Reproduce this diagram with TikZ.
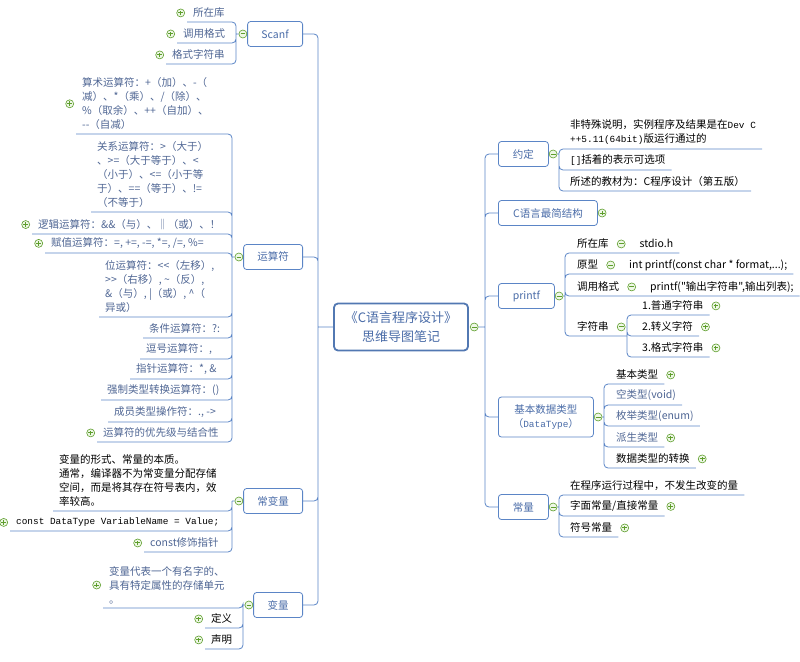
\documentclass[tikz,border=0pt]{standalone}
\usepackage{fontspec}
\newfontfamily\cjk[Ligatures=TeXOff]{Noto Sans CJK SC}
\newfontfamily\mono{Liberation Mono}
\newcommand{\monotext}[1]{{\mono\fontsize{9.4}{14}\selectfont #1}}
\usetikzlibrary{positioning}
\definecolor{linkblue}{HTML}{5B85C6}
\definecolor{topicblue}{HTML}{4A6CA8}
\definecolor{leafblue}{HTML}{4E6593}
\definecolor{icongreen}{HTML}{5E9E2C}
\definecolor{iconfill}{HTML}{EEF7E6}

\begin{document}
\begin{tikzpicture}[x=1pt, y=-1pt,
  link/.style={draw=linkblue, line width=0.8pt, rounded corners=4pt},
  topic/.style={draw=linkblue, line width=0.8pt, rounded corners=3pt, fill=white, text=topicblue,
    font=\cjk\fontsize{10.5}{14}\selectfont, minimum height=25pt, inner xsep=13pt, align=center},
  leaf/.style={anchor=south west, inner xsep=6pt, inner ysep=4pt, align=left, text=leafblue,
    font=\cjk\fontsize{10.5}{14}\selectfont},
  dark/.style={text=black},
  icon/.style={circle, draw=icongreen, fill=iconfill, line width=0.6pt, minimum size=8pt, inner sep=0pt},
  plusicon/.style={icon, path picture={
    \draw[icongreen, line width=1pt] ([xshift=-2.4pt]path picture bounding box.center) -- ([xshift=2.4pt]path picture bounding box.center)
      ([yshift=-2.4pt]path picture bounding box.center) -- ([yshift=2.4pt]path picture bounding box.center);}},
  minusicon/.style={icon, path picture={
    \draw[icongreen, line width=1pt] ([xshift=-2.4pt]path picture bounding box.center) -- ([xshift=2.4pt]path picture bounding box.center);}}]

  \useasboundingbox (0,0) rectangle (800,661);

  % centre
  \node[draw=linkblue!90!black, line width=1.8pt, rounded corners=4pt, fill=white, text=topicblue,
    font=\cjk\fontsize{13}{19}\selectfont, align=center, minimum width=134pt, minimum height=47pt]
    (root) at (401,327) {《C语言程序设计》\\思维导图笔记};
  \node[minusicon, right=1pt of root] (rootm) {};
  \coordinate (ltrunk) at (318,327);
  \coordinate (rtrunk) at (485,327);

  % Scanf
  \node[topic, anchor=east, minimum width=55pt] (scanf) at (303,34) {Scanf};
  \node[minusicon, left=0pt of scanf] (scanfm) {};
  \coordinate (scb) at (236,34);
  \node[leaf] (sc1) at (187,22) {所在库};
  \node[plusicon, left=2pt of sc1] (sc1p) {};
  \node[leaf] (sc2) at (177,43) {调用格式};
  \node[plusicon, left=2pt of sc2] (sc2p) {};
  \node[leaf] (sc3) at (166,64) {格式字符串};
  \node[plusicon, left=2pt of sc3] (sc3p) {};
  \draw[link] (scanfm) -- (scb) (scb) |- (sc1.south west) (scb) |- (sc2.south west) (scb) |- (sc3.south west);

  % operators
  \node[topic, anchor=east, minimum width=59pt] (ysf) at (303,257) {运算符};
  \node[minusicon, left=0pt of ysf] (ysfm) {};
  \coordinate (ysb) at (232,257);
  \node[leaf] (ys1) at (76,134) {算术运算符：+（加）、-（\\减）、*（乘）、/（除）、\\\%（取余）、++（自加）、\\--（自减）};
  \node[plusicon, left=2pt of ys1] (ys1p) {};
  \node[leaf] (ys2) at (91,212) {关系运算符：>（大于）\\、>=（大于等于）、<\\（小于）、<=（小于等\\于）、==（等于）、!=\\（不等于）};
  \node[leaf] (ys3) at (32,234) {逻辑运算符：\&\&（与）、‖（或）、！};
  \node[plusicon, left=2pt of ys3] (ys3p) {};
  \node[leaf] (ys4) at (45,253) {赋值运算符：=, +=, -=, *=, /=, \%=};
  \node[plusicon, left=2pt of ys4] (ys4p) {};
  \node[leaf] (ys5) at (99,317) {位运算符：<<（左移）,\\>>（右移）, \textasciitilde（反）,\\\&（与）, |（或）, \textasciicircum（\\异或）};
  \node[leaf] (ys6) at (143,338) {条件运算符：?:};
  \node[leaf] (ys7) at (140,359) {逗号运算符：,};
  \node[leaf] (ys8) at (130,379) {指针运算符：*, \&};
  \node[leaf] (ys9) at (101,400) {强制类型转换运算符：()};
  \node[leaf] (ys10) at (108,422) {成员类型操作符：., ->};
  \node[leaf] (ys11) at (97,442) {运算符的优先级与结合性};
  \node[plusicon, left=2pt of ys11] (ys11p) {};
  \draw[link] (ysfm) -- (ysb)
    (ysb) |- (ys1.south west) (ysb) |- (ys2.south west) (ysb) |- (ys3.south west)
    (ysb) |- (ys4.south west) (ysb) |- (ys5.south west) (ysb) |- (ys6.south west)
    (ysb) |- (ys7.south west) (ysb) |- (ys8.south west) (ysb) |- (ys9.south west)
    (ysb) |- (ys10.south west) (ysb) |- (ys11.south west);

  % const variables
  \node[topic, anchor=east, minimum width=59pt] (cbl) at (303,501) {常变量};
  \node[minusicon, left=0pt of cbl] (cblm) {};
  \coordinate (cbb) at (232,501);
  \node[leaf, dark] (cb1) at (53,511) {变量的形式、常量的本质。\\通常，编译器不为常变量分配存储\\空间，而是将其存在符号表内，效\\率较高。};
  \node[leaf, dark] (cb2) at (10,531) {\monotext{const DataType VariableName = Value;}};
  \node[plusicon, left=2pt of cb2] (cb2p) {};
  \node[leaf] (cb3) at (144,552) {const修饰指针};
  \node[plusicon, left=2pt of cb3] (cb3p) {};
  \draw[link] (cblm) -- (cbb) (cbb) |- (cb1.south west) (cbb) |- (cb2.south west) (cbb) |- (cb3.south west);

  % variables
  \node[topic, anchor=east, minimum width=49pt] (bl) at (303,605) {变量};
  \node[minusicon, left=0pt of bl] (blm) {};
  \coordinate (blb) at (243,605);
  \node[leaf] (bl1) at (103,608) {变量代表一个有名字的、\\具有特定属性的存储单元\\。};
  \node[plusicon, left=2pt of bl1] (bl1p) {};
  \node[leaf, dark] (bl2) at (205,628) {定义};
  \node[plusicon, left=2pt of bl2] (bl2p) {};
  \node[leaf, dark] (bl3) at (205,649) {声明};
  \node[plusicon, left=2pt of bl3] (bl3p) {};
  \draw[link] (blm) -- (blb) (blb) |- (bl1.south west) (blb) |- (bl2.south west) (blb) |- (bl3.south west);

  % conventions
  \node[topic, anchor=west, minimum width=50pt] (yd) at (498,154) {约定};
  \node[minusicon, right=0pt of yd] (ydm) {};
  \coordinate (ydb) at (559,154);
  \node[leaf, dark] (yd1) at (564,149) {非特殊说明，实例程序及结果是在\monotext{Dev C}\\\monotext{++5.11(64bit)}版运行通过的};
  \node[leaf, dark] (yd2) at (564,170) {\monotext{[]}括着的表示可选项};
  \node[leaf, dark] (yd3) at (564,191) {所述的教材为：C程序设计（第五版）};
  \draw[link] (ydm) -- (ydb) (ydb) |- (yd1.south east) (ydb) |- (yd2.south east) (ydb) |- (yd3.south east);

  \node[topic, anchor=west, minimum width=99pt] (cljg) at (498,213) {C语言最简结构};
  \node[plusicon, right=0pt of cljg] (cljgp) {};

  % printf
  \node[topic, anchor=west, minimum width=56pt] (pf) at (498,296) {printf};
  \node[minusicon, right=0pt of pf] (pfm) {};
  \coordinate (pfb) at (565,296);
  \node[leaf, dark] (pf1) at (571,253) {所在库};
  \node[minusicon, right=2pt of pf1] (pf1m) {};
  \node[leaf, dark, anchor=base west] (pf1c) at ([xshift=8pt]pf1m.east |- pf1.base) {stdio.h};
  \node[leaf, dark] (pf2) at (571,274) {原型};
  \node[minusicon, right=2pt of pf2] (pf2m) {};
  \node[leaf, dark, anchor=base west] (pf2c) at ([xshift=8pt]pf2m.east |- pf2.base) {int printf(const char * format,...);};
  \node[leaf, dark] (pf3) at (571,296) {调用格式};
  \node[minusicon, right=2pt of pf3] (pf3m) {};
  \node[leaf, dark, anchor=base west] (pf3c) at ([xshift=8pt]pf3m.east |- pf3.base) {printf("输出字符串",输出列表);};
  \node[leaf, dark] (pf4) at (571,336) {字符串};
  \node[minusicon, right=2pt of pf4] (pf4m) {};
  \coordinate (zfb) at (627,336);
  \node[leaf, dark] (zf1) at (636,315) {1.普通字符串};
  \node[plusicon, right=2pt of zf1] (zf1p) {};
  \node[leaf, dark] (zf2) at (636,336) {2.转义字符};
  \node[plusicon, right=2pt of zf2] (zf2p) {};
  \node[leaf, dark] (zf3) at (636,357) {3.格式字符串};
  \node[plusicon, right=2pt of zf3] (zf3p) {};
  \draw[link] (pfm) -- (pfb) (pfb) |- (pf1.south -| pf1c.east) (pfb) |- (pf2.south -| pf2c.east)
    (pfb) |- (pf3.south -| pf3c.east) (pfb) |- (zfb);
  \draw[link] (zfb) |- (zf1.south east) (zfb) |- (zf2.south east) (zfb) |- (zf3.south east);

  % data types
  \node[topic, anchor=west, minimum width=95pt, minimum height=40pt] (jb) at (498,417) {基本数据类型\\（\monotext{DataType}）};
  \node[minusicon, right=0pt of jb] (jbm) {};
  \coordinate (jbb) at (604,417);
  \node[leaf, dark] (jb1) at (610,384) {基本类型};
  \node[plusicon, right=2pt of jb1] (jb1p) {};
  \node[leaf] (jb2) at (610,405) {空类型(void)};
  \node[leaf] (jb3) at (610,426) {枚举类型(enum)};
  \node[leaf] (jb4) at (610,447) {派生类型};
  \node[plusicon, right=2pt of jb4] (jb4p) {};
  \node[leaf, dark] (jb5) at (610,468) {数据类型的转换};
  \node[plusicon, right=2pt of jb5] (jb5p) {};
  \draw[link] (jbm) -- (jbb) (jbb) |- (jb1.south east) (jbb) |- (jb2.south east) (jbb) |- (jb3.south east)
    (jbb) |- (jb4.south east) (jbb) |- (jb5.south east);

  % constants
  \node[topic, anchor=west, minimum width=50pt] (cl) at (498,507) {常量};
  \node[minusicon, right=0pt of cl] (clm) {};
  \coordinate (clb) at (559,507);
  \node[leaf, dark] (cl1) at (564,495) {在程序运行过程中，不发生改变的量};
  \node[leaf, dark] (cl2) at (564,516) {字面常量/直接常量};
  \node[plusicon, right=2pt of cl2] (cl2p) {};
  \node[leaf, dark] (cl3) at (564,537) {符号常量};
  \node[plusicon, right=2pt of cl3] (cl3p) {};
  \draw[link] (clm) -- (clb) (clb) |- (cl1.south east) (clb) |- (cl2.south east) (clb) |- (cl3.south east);

  % trunks
  \draw[link] (root) -- (ltrunk) (ltrunk) |- (scanf) (ltrunk) |- (ysf) (ltrunk) |- (cbl) (ltrunk) |- (bl);
  \draw[link] (rootm) -- (rtrunk) (rtrunk) |- (yd) (rtrunk) |- (cljg) (rtrunk) |- (pf) (rtrunk) |- (jb) (rtrunk) |- (cl);
\end{tikzpicture}
\end{document}
